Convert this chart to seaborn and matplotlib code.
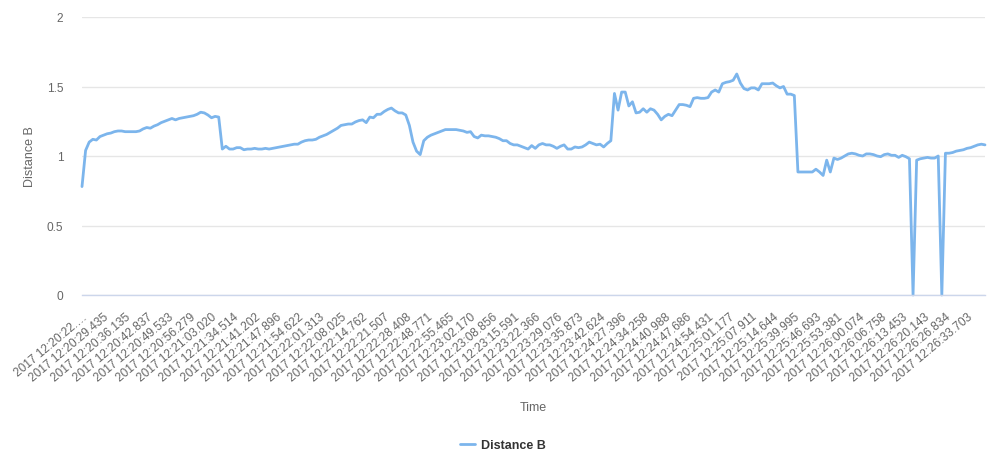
import matplotlib
matplotlib.use("Agg")
import matplotlib.pyplot as plt
import pandas as pd
import seaborn as sns

# ---- data ----
distance_b = [
    0.78, 1.04, 1.10, 1.12, 1.115, 1.14, 1.15, 1.16, 1.165, 1.175,
    1.18, 1.18, 1.175, 1.175, 1.175, 1.175, 1.18, 1.195, 1.205, 1.20,
    1.215, 1.225, 1.24, 1.25, 1.26, 1.27, 1.26, 1.27, 1.275, 1.28,
    1.285, 1.29, 1.30, 1.315, 1.31, 1.295, 1.275, 1.285, 1.28, 1.05,
    1.07, 1.05, 1.05, 1.06, 1.06, 1.045, 1.05, 1.05, 1.055, 1.05,
    1.05, 1.055, 1.05, 1.055, 1.06, 1.065, 1.07, 1.075, 1.08, 1.085,
    1.085, 1.10, 1.11, 1.115, 1.115, 1.12, 1.135, 1.145, 1.155, 1.17,
    1.185, 1.20, 1.22, 1.225, 1.23, 1.23, 1.245, 1.255, 1.26, 1.24,
    1.28, 1.275, 1.30, 1.30, 1.32, 1.335, 1.345, 1.325, 1.31, 1.31,
    1.295, 1.22, 1.10, 1.035, 1.01, 1.11, 1.135, 1.15, 1.16, 1.17,
    1.18, 1.19, 1.19, 1.19, 1.19, 1.185, 1.18, 1.17, 1.175, 1.14,
    1.13, 1.15, 1.145, 1.145, 1.14, 1.135, 1.125, 1.11, 1.11, 1.09,
    1.08, 1.08, 1.07, 1.06, 1.05, 1.075, 1.055, 1.08, 1.09, 1.08,
    1.08, 1.07, 1.055, 1.07, 1.08, 1.05, 1.05, 1.065, 1.06, 1.065,
    1.08, 1.10, 1.09, 1.08, 1.085, 1.065, 1.09, 1.11, 1.45, 1.33,
    1.46, 1.46, 1.36, 1.39, 1.31, 1.315, 1.34, 1.315, 1.34, 1.33,
    1.30, 1.26, 1.285, 1.30, 1.29, 1.33, 1.37, 1.37, 1.365, 1.355,
    1.415, 1.42, 1.415, 1.415, 1.42, 1.46, 1.475, 1.46, 1.52, 1.53,
    1.535, 1.545, 1.59, 1.525, 1.485, 1.475, 1.49, 1.49, 1.475, 1.52,
    1.52, 1.52, 1.525, 1.505, 1.49, 1.50, 1.445, 1.445, 1.435, 0.885,
    0.885, 0.885, 0.885, 0.885, 0.905, 0.885, 0.86, 0.97, 0.885, 0.985,
    0.975, 0.985, 1.0, 1.015, 1.02, 1.015, 1.005, 1.0, 1.015, 1.015,
    1.01, 1.0, 0.995, 1.01, 1.015, 1.005, 1.005, 0.99, 1.005, 0.995,
    0.98, 0.0, 0.97, 0.98, 0.985, 0.99, 0.985, 0.985, 1.0, 0.0,
    1.02, 1.02, 1.025, 1.035, 1.04, 1.045, 1.055, 1.06, 1.07, 1.08,
    1.085, 1.08,
]

tick_labels = [
    "2017 12:20:22.\u2026", "2017 12:20:29.435", "2017 12:20:36.135", "2017 12:20:42.837",
    "2017 12:20:49.533", "2017 12:20:56.279", "2017 12:21:03.020", "2017 12:21:34.514",
    "2017 12:21:41.202", "2017 12:21:47.896", "2017 12:21:54.622", "2017 12:22:01.313",
    "2017 12:22:08.025", "2017 12:22:14.762", "2017 12:22:21.507", "2017 12:22:28.408",
    "2017 12:22:48.771", "2017 12:22:55.465", "2017 12:23:02.170", "2017 12:23:08.856",
    "2017 12:23:15.591", "2017 12:23:22.366", "2017 12:23:29.076", "2017 12:23:35.873",
    "2017 12:23:42.624", "2017 12:24:27.396", "2017 12:24:34.258", "2017 12:24:40.988",
    "2017 12:24:47.686", "2017 12:24:54.431", "2017 12:25:01.177", "2017 12:25:07.911",
    "2017 12:25:14.644", "2017 12:25:39.995", "2017 12:25:46.693", "2017 12:25:53.381",
    "2017 12:26:00.074", "2017 12:26:06.758", "2017 12:26:13.453", "2017 12:26:20.143",
    "2017 12:26:26.834", "2017 12:26:33.703",
]
label_step = 6

y_ticks = [0, 0.5, 1, 1.5, 2]
y_tick_labels = ["0", "0.5", "1", "1.5", "2"]

sns.set_style("white")
plt.rcParams['font.family'] = ['Liberation Sans', 'DejaVu Sans']

df = pd.DataFrame({"Point": list(range(len(distance_b))), "Distance B": distance_b})

W, H = 989, 456
fig = plt.figure(figsize=(W / 100, H / 100), dpi=100)
ax = fig.add_axes([82 / W, 160 / H, 903 / W, 278 / H])

sns.lineplot(data=df, x="Point", y="Distance B", ax=ax, color="#7cb5ec",
             linewidth=2, label="Distance B", clip_on=False)

ax.set_xlim(0, len(distance_b) - 1)
ax.set_ylim(0, 2)
ax.set_yticks(y_ticks)
ax.set_yticklabels(y_tick_labels)
ax.set_xticks(list(range(0, len(distance_b), label_step))[:len(tick_labels)])
ax.set_xticklabels(tick_labels, rotation=40, ha="right", va="top",
                   rotation_mode="anchor")

ax.tick_params(axis="x", length=0, pad=11, labelsize=8.6, labelcolor="#666666")
ax.tick_params(axis="y", length=0, pad=13.5, labelsize=8.6, labelcolor="#666666")
for t in ax.get_yticklabels():
    t.set_ha("right")

ax.yaxis.grid(True, color="#e6e6e6", linewidth=1)
ax.xaxis.grid(False)
for s in ["top", "right", "left"]:
    ax.spines[s].set_visible(False)
ax.spines["bottom"].set_color("#ccd6eb")
ax.spines["bottom"].set_linewidth(1)
ax.set_axisbelow(True)

ax.set_xlabel("Time", fontsize=9, color="#666666")
ax.xaxis.set_label_coords(0.5, -(408 - 296) / 278)
ax.xaxis.label.set_va("center")
ax.set_ylabel("Distance B", fontsize=9, color="#666666")
ax.yaxis.set_label_coords((30 - 82) / 903, 0.5)
ax.yaxis.label.set_va("center")

leg = ax.legend(loc="center", bbox_to_anchor=(503 / W, 1 - 446 / H),
                bbox_transform=fig.transFigure, frameon=False,
                handlelength=1.2, handletextpad=0.5,
                prop={"weight": "bold", "size": 9})
for txt in leg.get_texts():
    txt.set_color("#333333")

fig.savefig("out.png", dpi=100)
